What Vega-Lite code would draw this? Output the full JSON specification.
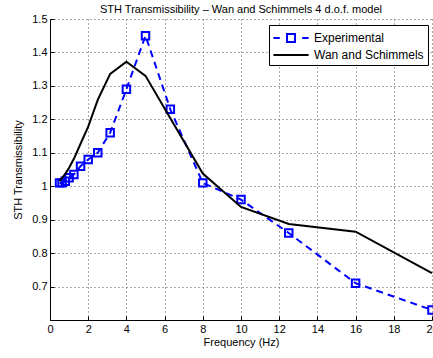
{
  "$schema": "https://vega.github.io/schema/vega-lite/v6.json",
  "autosize": "none",
  "padding": {"left": 50, "top": 19, "right": 1, "bottom": 38},
  "width": 382,
  "height": 301,
  "background": "white",
  "title": {
    "text": "STH Transmissibility – Wan and Schimmels 4 d.o.f. model",
    "anchor": "middle",
    "frame": "group",
    "fontSize": 11,
    "fontWeight": "normal",
    "font": "Liberation Sans",
    "color": "#000",
    "baseline": "top",
    "offset": -2
  },
  "config": {
    "view": {"stroke": null},
    "font": "Liberation Sans",
    "axis": {
      "labelFont": "Liberation Sans",
      "labelFontSize": 11,
      "labelColor": "#000",
      "labelFlush": false,
      "labelOverlap": false,
      "titleFont": "Liberation Sans",
      "titleFontSize": 11,
      "titleFontWeight": "normal",
      "titleColor": "#000",
      "domainColor": "#000",
      "domainWidth": 1,
      "tickColor": "#000",
      "tickSize": -4,
      "labelPadding": 7,
      "grid": true,
      "gridColor": "#555",
      "gridDash": [1, 3],
      "gridWidth": 1
    },
    "legend": {
      "labelFont": "Liberation Sans",
      "labelFontSize": 12,
      "labelColor": "#000"
    }
  },
  "data": {
    "values": [
      {"series": "Experimental", "freq": 0.5, "value": 1.01},
      {"series": "Experimental", "freq": 0.63, "value": 1.01},
      {"series": "Experimental", "freq": 0.8, "value": 1.015},
      {"series": "Experimental", "freq": 1.0, "value": 1.025},
      {"series": "Experimental", "freq": 1.25, "value": 1.035},
      {"series": "Experimental", "freq": 1.6, "value": 1.06},
      {"series": "Experimental", "freq": 2.0, "value": 1.08},
      {"series": "Experimental", "freq": 2.5, "value": 1.1},
      {"series": "Experimental", "freq": 3.15, "value": 1.16},
      {"series": "Experimental", "freq": 4.0, "value": 1.29},
      {"series": "Experimental", "freq": 5.0, "value": 1.45},
      {"series": "Experimental", "freq": 6.3, "value": 1.23},
      {"series": "Experimental", "freq": 8.0, "value": 1.01},
      {"series": "Experimental", "freq": 10.0, "value": 0.96},
      {"series": "Experimental", "freq": 12.5, "value": 0.86},
      {"series": "Experimental", "freq": 16.0, "value": 0.71},
      {"series": "Experimental", "freq": 20.0, "value": 0.63},
      {"series": "Wan and Schimmels", "freq": 0.5, "value": 1.015},
      {"series": "Wan and Schimmels", "freq": 0.63, "value": 1.025},
      {"series": "Wan and Schimmels", "freq": 0.8, "value": 1.037},
      {"series": "Wan and Schimmels", "freq": 1.0, "value": 1.055},
      {"series": "Wan and Schimmels", "freq": 1.25, "value": 1.082},
      {"series": "Wan and Schimmels", "freq": 1.6, "value": 1.127},
      {"series": "Wan and Schimmels", "freq": 2.0, "value": 1.178},
      {"series": "Wan and Schimmels", "freq": 2.5, "value": 1.258},
      {"series": "Wan and Schimmels", "freq": 3.15, "value": 1.336},
      {"series": "Wan and Schimmels", "freq": 4.0, "value": 1.372},
      {"series": "Wan and Schimmels", "freq": 5.0, "value": 1.33},
      {"series": "Wan and Schimmels", "freq": 6.3, "value": 1.203},
      {"series": "Wan and Schimmels", "freq": 8.0, "value": 1.038},
      {"series": "Wan and Schimmels", "freq": 10.0, "value": 0.938},
      {"series": "Wan and Schimmels", "freq": 12.5, "value": 0.887},
      {"series": "Wan and Schimmels", "freq": 16.0, "value": 0.864},
      {"series": "Wan and Schimmels", "freq": 20.0, "value": 0.74}
    ]
  },
  "encoding": {
    "x": {
      "field": "freq",
      "type": "quantitative",
      "scale": {"domain": [0, 20], "nice": false, "zero": false},
      "axis": {"title": "Frequency (Hz)", "values": [0, 2, 4, 6, 8, 10, 12, 14, 16, 18, 20], "titlePadding": 2}
    },
    "y": {
      "field": "value",
      "type": "quantitative",
      "scale": {"domain": [0.6, 1.5], "nice": false, "zero": false},
      "axis": {"title": "STH Transmissibility", "values": [0.7, 0.8, 0.9, 1, 1.1, 1.2, 1.3, 1.4, 1.5], "format": "~g", "titlePadding": 8}
    },
    "color": {
      "field": "series",
      "type": "nominal",
      "scale": {"domain": ["Experimental", "Wan and Schimmels"], "range": ["#0000ff", "#000000"]},
      "legend": {
        "title": null,
        "orient": "none",
        "legendX": 219,
        "legendY": 6,
        "padding": 4,
        "strokeColor": "#000",
        "fillColor": "#fff",
        "symbolSize": 256,
        "symbolStrokeWidth": 2,
        "symbolOffset": 9,
        "labelOffset": 14,
        "rowPadding": 0,
        "encode": {
          "symbols": {
            "update": {
              "shape": [
                {"test": "datum.value === 'Experimental'", "value": "M-2.2,0H-1.4M-0.5,-0.5H0.5V0.5H-0.5ZM1.4,0H2.2"},
                {"value": "M-2.2,0H2.2"}
              ],
              "fill": {"value": "transparent"}
            }
          }
        }
      }
    }
  },
  "layer": [
    {
      "transform": [{"filter": "datum.series === 'Experimental'"}],
      "mark": {"type": "line", "strokeWidth": 2, "strokeDash": [7, 5]}
    },
    {
      "transform": [{"filter": "datum.series === 'Experimental'"}],
      "mark": {"type": "point", "shape": "square", "filled": false, "size": 56, "strokeWidth": 2, "opacity": 1}
    },
    {
      "transform": [{"filter": "datum.series === 'Wan and Schimmels'"}],
      "mark": {"type": "line", "strokeWidth": 2}
    }
  ]
}
